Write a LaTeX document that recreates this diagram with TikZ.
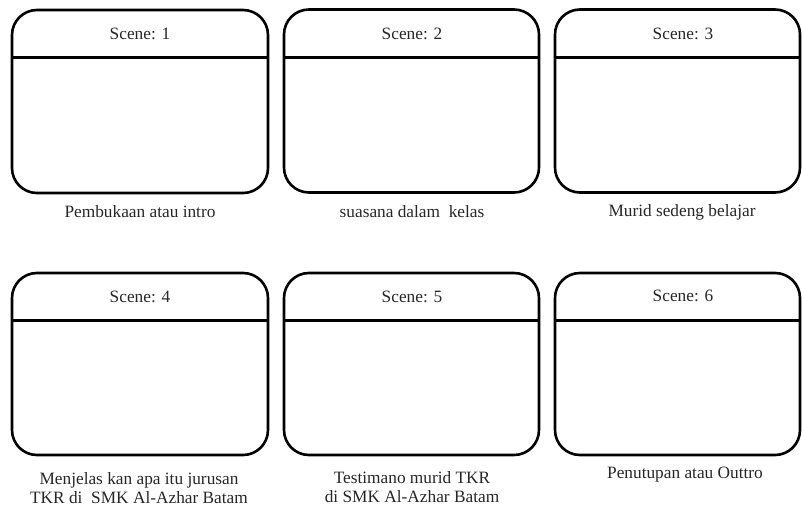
\documentclass[tikz,border=0pt]{standalone}
\usepackage{fontspec}
\setmainfont{Liberation Serif}
\usepackage{tikz}

\begin{document}
\begin{tikzpicture}[x=1pt, y=-1pt,
  frame/.style={draw=black, line width=2.6pt, rounded corners=25pt, inner sep=0pt},
  bar/.style={draw=black, line width=2.8pt},
  every node/.style={font=\fontsize{17.3}{18.5}\selectfont, text=black!85}]
\useasboundingbox (0,0) rectangle (802,506);
% top row
\node[frame, minimum width=256pt, minimum height=183pt] (frame1) at (140,101.5) {};
\node[frame, minimum width=255pt, minimum height=183pt] (frame2) at (411.5,101) {};
\node[frame, minimum width=245pt, minimum height=183pt] (frame3) at (677.5,101) {};
\draw[bar] ([yshift=-49pt]frame1.north west) -- ([yshift=-49pt]frame1.north east);
\draw[bar] ([yshift=-49pt]frame2.north west) -- ([yshift=-49pt]frame2.north east);
\draw[bar] ([yshift=-49pt]frame3.north west) -- ([yshift=-49pt]frame3.north east);
\node (scene1) at (140,34) {Scene: 1};
\node (scene2) at (412,34) {Scene: 2};
\node (scene3) at (683,34) {Scene: 3};
\node (caption1) at (140,212) {Pembukaan atau intro};
\node (caption2) at (412,212) {suasana dalam~ kelas};
\node (caption3) at (682,212) {Murid sedeng belajar};
% bottom row
\node[frame, minimum width=256pt, minimum height=182pt] (frame4) at (140,364) {};
\node[frame, minimum width=255pt, minimum height=182pt] (frame5) at (411.5,364) {};
\node[frame, minimum width=245pt, minimum height=182pt] (frame6) at (677.5,364) {};
\draw[bar] ([yshift=-48.5pt]frame4.north west) -- ([yshift=-48.5pt]frame4.north east);
\draw[bar] ([yshift=-48.5pt]frame5.north west) -- ([yshift=-48.5pt]frame5.north east);
\draw[bar] ([yshift=-48.5pt]frame6.north west) -- ([yshift=-48.5pt]frame6.north east);
\node (scene4) at (140,297) {Scene: 4};
\node (scene5) at (412,297) {Scene: 5};
\node (scene6) at (683,296) {Scene: 6};
\node[align=center] (caption4) at (139,488) {Menjelas kan apa itu jurusan\\TKR di~ SMK Al-Azhar Batam};
\node[align=center] (caption5) at (412,487) {Testimano murid TKR\\di SMK Al-Azhar Batam};
\node (caption6) at (685,475) {Penutupan atau Outtro};
\end{tikzpicture}
\end{document}
